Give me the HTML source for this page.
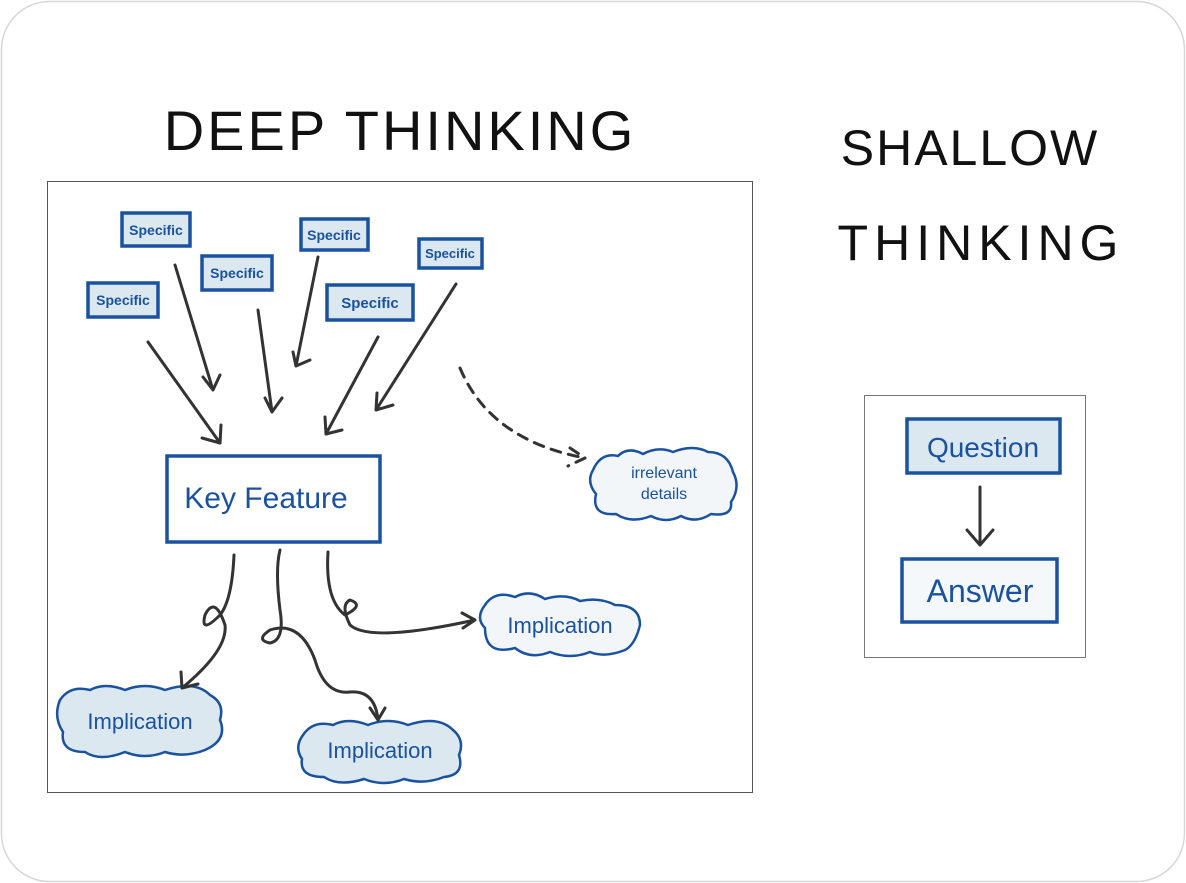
<!DOCTYPE html>
<html><head><meta charset="utf-8"><style>
html,body{margin:0;padding:0;background:#fff;}
svg{display:block;}
text{font-family:"Liberation Sans",sans-serif;}
</style></head><body>
<svg width="1186" height="883" viewBox="0 0 1186 883" xmlns="http://www.w3.org/2000/svg">
<rect x="1.5" y="1.5" width="1183" height="880" rx="48" fill="#fff" stroke="#d8d8d8" stroke-width="1.5"/>
<text x="400" y="150" font-size="56" text-anchor="middle" fill="#111" font-weight="300" letter-spacing="3">DEEP THINKING</text>
<text x="970" y="165" font-size="50" text-anchor="middle" fill="#111" letter-spacing="2">SHALLOW</text>
<text x="981" y="260" font-size="50" text-anchor="middle" fill="#111" letter-spacing="6">THINKING</text>
<rect x="47.5" y="181.5" width="705" height="611" fill="#fff" stroke="#555" stroke-width="1"/>
<rect x="864.5" y="395.5" width="221" height="262" fill="#fff" stroke="#777" stroke-width="1"/>
<g fill="#dbe8f0" stroke="#1a52a0" stroke-width="3.5">
<rect x="122" y="213" width="68" height="33"/>
<rect x="202" y="256" width="70" height="34"/>
<rect x="301" y="219" width="67" height="31"/>
<rect x="88" y="283" width="70" height="34"/>
<rect x="327" y="285" width="86" height="35"/>
<rect x="419" y="239" width="63" height="29"/>
<rect x="167" y="456" width="213" height="86" fill="#fff"/>
<rect x="907" y="419" width="153" height="54"/>
<rect x="902" y="559" width="155" height="63" fill="#f4f8fb"/>
<path d="M593 470 q8-18 25-14 q10-10 25-2 q15-8 30-2 q20-8 35 0 q20 0 25 20 q8 15-2 30 q2 15-20 12 q-15 10-30 2 q-15 8-30 0 q-20 8-35-2 q-25 2-20-20 q-10-12-3-24z" fill="#f2f6f9" stroke-width="2.5"/>
<path d="M485 605 q10-15 30-8 q15-8 30 2 q20-6 35 2 q20-4 35 4 q25 0 25 20 q-5 20-15 25 q-20 8-35 2 q-20 8-40 0 q-20 8-35-4 q-30 8-30-20 q-10-10 0-23z" fill="#f2f6f9" stroke-width="2.5"/>
<path d="M60 700 q10-15 30-10 q15-8 35 0 q20-8 40 0 q30-10 45 5 q15 8 10 25 q8 20-15 30 q-20 8-40 2 q-20 8-40 0 q-25 10-40 0 q-25 0-22-20 q-10-15-3-32z" stroke-width="2.5"/>
<path d="M303 735 q10-15 30-10 q15-8 35 0 q20-8 40 0 q30-10 45 5 q12 10 6 25 q6 20-15 22 q-20 8-40 2 q-20 8-40 0 q-25 8-40-2 q-25 0-22-18 q-8-12 1-24z" stroke-width="2.5"/>
</g>
<g fill="#1a52a0" font-family="Liberation Sans, sans-serif">
<text x="156" y="235" font-size="14" text-anchor="middle" font-weight="bold">Specific</text>
<text x="237" y="278" font-size="14" text-anchor="middle" font-weight="bold">Specific</text>
<text x="334" y="240" font-size="14" text-anchor="middle" font-weight="bold">Specific</text>
<text x="123" y="305" font-size="14" text-anchor="middle" font-weight="bold">Specific</text>
<text x="370" y="308" font-size="15" text-anchor="middle" font-weight="bold">Specific</text>
<text x="450" y="258" font-size="13" text-anchor="middle" font-weight="bold">Specific</text>
<text x="266" y="508" font-size="30" text-anchor="middle">Key Feature</text>
<text x="664" y="478" font-size="16" text-anchor="middle">irrelevant</text>
<text x="664" y="499" font-size="16" text-anchor="middle">details</text>
<text x="560" y="633" font-size="22" text-anchor="middle">Implication</text>
<text x="140" y="729" font-size="22" text-anchor="middle">Implication</text>
<text x="380" y="758" font-size="22" text-anchor="middle">Implication</text>
<text x="983" y="457" font-size="28" text-anchor="middle">Question</text>
<text x="980" y="602" font-size="32" text-anchor="middle">Answer</text>
</g>
<g fill="none" stroke="#333" stroke-width="3" stroke-linecap="round" stroke-linejoin="round">
<path d="M148 342 L220 443 M202 438 L220 443 L221 425"/>
<path d="M175 265 L213 390 M203 377 L213 390 L220 375"/>
<path d="M258 310 L272 412 M265 398 L272 412 L282 398"/>
<path d="M318 257 L296 366 M293 352 L296 366 L310 360"/>
<path d="M378 337 L326 434 M325 417 L326 434 L342 430"/>
<path d="M456 284 L376 410 M377 393 L376 410 L393 405"/>
<path d="M460 368 Q490 440 585 458 M570 448 L585 458 L568 466" stroke-dasharray="10 8"/>
<path d="M234 555 Q232 600 220 615 Q200 635 205 615 Q215 595 225 625 Q228 650 182 688 M181 672 L182 688 L198 684"/>
<path d="M280 550 Q275 570 280 610 Q285 640 270 643 Q255 640 270 630 Q300 620 315 660 Q325 695 350 692 Q375 690 378 720 M370 708 L378 720 L385 708"/>
<path d="M328 552 Q325 600 345 615 Q365 605 350 600 Q340 605 350 625 Q370 643 475 620 M462 613 L475 620 L463 628"/>
<path d="M980 487 L980 545 M967 530 L980 545 L993 530"/>
</g>
</svg>
</body></html>
